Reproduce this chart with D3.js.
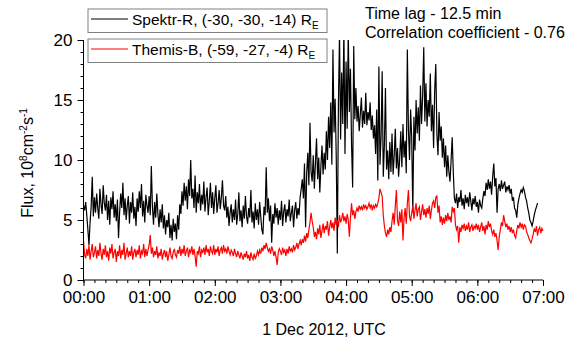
<!DOCTYPE html>
<html lang="en">
<head>
<meta charset="UTF-8">
<script src="https://d3js.org/d3.v7.min.js"></script>
<title>Flux</title>
<style>
  body { margin: 0; background: #fff; }
  text { font-family: "Liberation Sans", Arial, sans-serif; fill: #000; }
</style>
</head>
<body>
<svg id="chart" width="575" height="344"></svg>
<script>
// one value per minute, starting 1 Dec 2012 00:00 UTC
const spektr = [
  6.2, 5.8, 6.5, 5.4, 4.2, 2.9, 4.8, 6.1, 8.6, 5.3,
  6.9, 5.6, 7.2, 6.0, 5.1, 7.6, 6.3, 5.5, 7.9, 6.4,
  5.8, 7.1, 5.0, 6.6, 4.6, 6.9, 5.9, 7.4, 5.2, 6.3,
  4.9, 6.7, 3.5, 5.6, 7.2, 6.0, 8.1, 5.4, 6.8, 5.0,
  6.2, 7.0, 4.7, 6.5, 5.6, 7.3, 5.1, 6.1, 4.5, 6.8,
  5.7, 7.4, 6.0, 8.0, 5.3, 6.6, 4.8, 7.1, 6.2, 5.6,
  7.0, 5.4, 9.5, 6.1, 4.6, 6.5, 5.2, 7.2, 5.5, 4.4,
  5.9, 4.8, 6.3, 4.3, 5.4, 3.8, 5.0, 4.4, 5.6, 3.5,
  4.6, 3.3, 5.1, 4.0, 4.7, 3.4, 5.4, 4.2, 6.3, 5.5,
  7.4, 6.2, 8.1, 6.6, 7.8, 5.9, 8.4, 7.0, 10.0, 6.8,
  7.6, 6.0, 8.7, 5.6, 7.3, 6.4, 8.0, 5.8, 7.1, 6.3,
  8.2, 5.7, 6.9, 7.7, 5.4, 6.6, 8.1, 6.0, 7.3, 5.5,
  6.8, 7.9, 5.6, 6.4, 7.5, 5.9, 6.9, 8.3, 6.2, 5.8,
  7.0, 5.2, 6.1, 4.5, 5.6, 6.3, 4.8, 5.9, 5.0, 6.7,
  4.6, 5.5, 7.3, 4.9, 5.8, 4.4, 6.2, 5.1, 7.0, 5.3,
  4.7, 6.0, 5.2, 7.5, 4.8, 5.7, 4.3, 6.4, 5.0, 5.9,
  4.6, 6.5, 5.3, 4.2, 3.8, 6.1, 5.4, 9.4, 5.6, 6.8,
  4.9, 6.2, 3.1, 5.5, 4.7, 6.4, 5.2, 6.0, 4.6, 5.8,
  5.0, 6.6, 4.5, 5.7, 6.3, 4.8, 5.9, 5.3, 6.7, 4.9,
  5.6, 6.2, 4.4, 5.8, 6.5, 5.1, 6.0, 5.4, 6.9, 7.6,
  8.4, 6.8, 9.7, 4.4, 8.9, 10.6, 7.9, 13.1, 9.0, 8.2,
  10.4, 7.6, 9.8, 11.8, 8.4, 10.2, 7.3, 9.5, 11.2, 8.8,
  10.6, 9.2, 12.4, 10.0, 13.6, 11.0, 14.8, 9.6, 19.2, 12.3,
  15.1, 10.4, 2.2, 14.6, 20.5, 11.7, 17.3, 13.0, 21.0, 10.5,
  18.2, 12.6, 20.8, 14.0, 17.6, 11.3, 7.7, 19.5, 13.4, 16.0,
  13.2, 14.5, 12.4, 13.8, 15.2, 12.7, 14.1, 13.0, 15.6, 12.9,
  14.0, 13.3, 14.8, 12.5, 13.7, 11.8, 12.9, 10.5, 14.2, 8.3,
  17.8, 9.6, 12.0, 17.4, 8.6, 11.2, 16.0, 9.2, 10.8, 8.4,
  11.5, 9.0, 12.2, 8.8, 10.4, 12.6, 9.3, 11.0, 8.6, 10.1,
  12.4, 9.4, 13.0, 10.2, 11.6, 8.9, 19.2, 12.5, 10.0, 14.2,
  11.8, 5.6, 13.6, 10.8, 15.0, 12.2, 14.4, 11.6, 16.2, 13.0,
  15.4, 19.4, 13.2, 16.4, 12.8, 15.0, 13.6, 17.2, 12.4, 14.6,
  11.0, 15.8, 18.0, 12.2, 10.4, 14.0, 11.6, 12.8, 10.2, 11.8,
  9.4, 11.2, 8.6, 10.4, 9.0, 8.2, 10.0, 11.9, 9.0, 6.8,
  6.4, 7.2, 6.0, 6.9, 6.5, 7.5, 6.2, 6.8, 5.9, 7.1,
  6.4, 6.9, 6.1, 7.3, 6.6, 5.8, 6.8, 6.3, 7.0, 6.1,
  6.5, 5.6, 6.7, 6.2, 6.0, 6.8, 7.4, 7.0, 8.1, 7.5,
  8.4, 7.6, 8.2, 7.1, 8.6, 9.7, 7.8, 8.5, 5.6, 7.6,
  8.0, 7.4, 8.3, 7.6, 7.9, 8.2, 7.3, 7.8, 7.5, 7.9,
  7.2, 7.6, 6.6, 6.9, 6.0, 5.8, 5.2, 6.3, 6.8, 7.2,
  7.5, 7.3, 7.7, 7.4, 6.9, 6.6, 6.0, 5.6, 5.0, 4.8,
  4.5, 4.9, 5.4, 5.8, 6.1, 6.4
];

const themis = [
  3.3, 2.1, 1.8, 2.6, 2.0, 2.9, 1.7, 2.4, 3.0, 1.9,
  2.3, 2.8, 1.8, 2.5, 2.0, 3.1, 2.2, 1.7, 2.6, 2.1,
  2.9, 1.9, 2.4, 1.6, 2.7, 2.2, 3.0, 1.8, 2.3, 2.6,
  1.5, 2.4, 2.0, 2.9, 1.8, 2.5, 2.1, 3.1, 1.7, 2.2,
  2.7, 1.9, 2.4, 2.0, 2.8, 1.7, 2.3, 2.6, 1.9, 2.5,
  2.1, 2.9, 1.8, 2.4, 2.2, 3.0, 1.9, 2.6, 2.0, 2.5,
  2.9, 3.75, 2.2, 2.7, 1.9, 2.4, 2.1, 2.8, 1.8, 2.3,
  2.0, 2.6, 1.7, 2.2, 2.5, 1.9, 2.4, 1.6, 2.1, 2.7,
  2.0, 1.8, 2.3, 2.6, 2.1, 1.9, 2.5, 2.2, 2.8, 2.0,
  2.6, 2.2, 2.9, 2.0, 2.4, 2.7, 1.9, 2.5, 2.3, 2.8,
  2.1, 2.6, 2.0, 1.1, 2.4, 2.2, 2.8, 1.9, 2.5, 2.3,
  2.7, 2.1, 2.9, 2.3, 2.6, 2.0, 2.8, 2.4, 2.2, 2.9,
  2.1, 2.6, 2.3, 2.8, 2.0, 2.5, 2.7, 2.2, 2.9, 2.4,
  2.6, 2.2, 2.8, 2.4, 2.1, 2.5, 2.3, 2.0, 2.6, 2.2,
  1.9, 2.4, 2.1, 1.8, 2.3, 2.0, 1.7, 2.2, 1.9, 2.4,
  1.8, 2.1, 1.6, 2.3, 1.9, 1.7, 2.2, 1.8, 2.0, 2.4,
  2.1, 2.5, 2.2, 2.7, 2.4, 2.9, 2.6, 3.1, 2.7, 2.4,
  2.6, 2.2, 2.8, 2.5, 2.0, 2.4, 1.9, 1.25, 2.3, 2.6,
  2.4, 2.1, 2.7, 2.3, 2.5, 2.0, 2.6, 2.2, 2.8, 2.4,
  2.6, 2.3, 2.9, 2.5, 2.7, 3.1, 2.6, 3.0, 3.3, 2.9,
  3.4, 3.1, 3.7, 3.2, 3.9, 3.5, 4.2, 4.8, 5.6, 4.9,
  4.4, 3.6, 4.0, 3.4, 4.3, 3.8, 4.6, 3.5, 4.1, 4.7,
  3.9, 4.5, 4.2, 4.9, 3.7, 4.4, 5.0, 4.3, 4.8, 4.1,
  5.2, 4.6, 5.0, 4.4, 5.4, 4.8, 5.1, 5.6, 4.9, 5.3,
  4.7, 5.5, 5.0, 3.6, 5.2, 6.4, 5.4, 5.8, 5.1, 5.7,
  6.0, 5.7, 6.2, 5.9, 6.1, 5.8, 6.3, 6.0, 6.2, 5.9,
  6.1, 6.4, 6.0, 6.3, 5.8, 6.2, 6.0, 6.3, 6.1, 6.4,
  6.8, 7.6, 7.3, 7.0, 5.4, 4.5, 3.9, 3.6, 4.2, 3.8,
  4.4, 4.0, 4.9, 5.6, 4.6, 6.2, 7.5, 5.0, 4.5, 5.7,
  4.8, 5.9, 3.3, 5.2, 6.0, 4.7, 6.4, 7.5, 5.3, 4.9,
  5.6, 6.2, 5.1, 5.8, 6.4, 5.3, 5.9, 6.1, 5.0, 5.7,
  6.3, 5.4, 5.9, 5.2, 6.0, 5.5, 6.2, 5.1, 5.8, 6.4,
  6.6, 6.0, 6.9, 7.0, 5.6, 6.2, 4.8, 5.3, 4.6, 5.2,
  4.7, 5.4, 4.9, 5.6, 5.0, 5.3, 4.8, 6.1, 5.7, 6.0,
  4.6, 4.2, 4.5, 3.1, 4.4, 4.0, 4.6, 4.3, 4.7, 4.1,
  4.5, 4.2, 4.8, 4.0, 4.4, 4.6, 4.1, 4.5, 4.3, 4.7,
  4.2, 4.6, 4.0, 4.4, 4.8, 4.1, 4.5, 3.8, 4.6, 4.2,
  4.9, 4.4, 4.7, 4.1, 3.8, 4.2, 3.6, 3.9, 3.3, 2.5,
  3.6, 4.2, 4.8, 4.5, 5.4, 4.9, 4.4, 4.7, 4.2, 4.5,
  4.0, 4.4, 3.9, 4.2, 3.7, 3.5, 4.1, 4.6, 4.3, 4.8,
  4.4, 4.7, 4.2, 4.6, 4.5, 4.0, 3.8, 3.5, 3.3, 3.1,
  3.4, 3.8, 4.3, 4.0, 4.5, 3.7, 4.2, 4.4, 3.9, 4.3,
  4.1
];

const yTicks = [0, 5, 10, 15, 20];
const seriesNames = ["Spektr-R, (-30, -30, -14) R", "Themis-B, (-59, -27, -4) R"];
const seriesColors = ["#000000", "#ff0000"];
const infoLines = ["Time lag - 12.5 min", "Correlation coefficient - 0.76"];

const svg = d3.select("svg#chart");
const margin = {top: 40, right: 32, bottom: 64, left: 83.5};

const t0 = Date.UTC(2012, 11, 1, 0, 0);
const t1 = Date.UTC(2012, 11, 1, 7, 0);
const x = d3.scaleUtc().domain([t0, t1]).range([margin.left, 543]);
const y = d3.scaleLinear().domain([0, 20]).range([280, margin.top]);

svg.append("defs").append("clipPath").attr("id", "plotclip")
  .append("rect")
  .attr("x", margin.left).attr("y", y(20))
  .attr("width", x(t1) - margin.left + 2).attr("height", y(0) - y(20));

const line = d3.line()
  .x((d, i) => x(t0 + i * 60000))
  .y(d => y(d));

const plot = svg.append("g").attr("clip-path", "url(#plotclip)");
plot.append("path").datum(spektr)
  .attr("fill", "none").attr("stroke", seriesColors[0]).attr("stroke-width", 1.2)
  .attr("d", line);
plot.append("path").datum(themis)
  .attr("fill", "none").attr("stroke", seriesColors[1]).attr("stroke-width", 1.2)
  .attr("d", line);

// axes
const xMinor = d3.axisBottom(x).ticks(d3.utcMinute.every(10)).tickSize(3).tickFormat("");
svg.append("g").attr("transform", `translate(0,${y(0)})`).call(xMinor)
  .call(g => g.select(".domain").remove());
const xAxis = d3.axisBottom(x).ticks(d3.utcHour.every(1))
  .tickFormat(d3.utcFormat("%H:%M")).tickSize(6).tickPadding(5);
svg.append("g").attr("transform", `translate(0,${y(0)})`).call(xAxis)
  .call(g => g.select(".domain").attr("d", `M${x(t0)},0H${x(t1)}`))
  .call(g => g.selectAll("text").attr("font-size", 17).attr("font-family", null));

const yMinor = d3.axisLeft(y).ticks(20).tickSize(3).tickFormat("");
svg.append("g").attr("transform", `translate(${margin.left},0)`).call(yMinor)
  .call(g => g.select(".domain").remove());
const yAxis = d3.axisLeft(y).tickValues(yTicks).tickSize(6).tickPadding(5);
svg.append("g").attr("transform", `translate(${margin.left},0)`).call(yAxis)
  .call(g => g.select(".domain").attr("d", `M0,${y(0)}V${y(20)}`))
  .call(g => g.selectAll("text").attr("font-size", 17).attr("font-family", null));

svg.selectAll(".tick line, .domain").attr("stroke", "#000").attr("stroke-width", 1);

// axis titles
const yTitle = svg.append("text")
  .attr("transform", "translate(33,163) rotate(-90)")
  .attr("text-anchor", "middle").attr("font-size", 16);
yTitle.append("tspan").text("Flux, 10");
yTitle.append("tspan").attr("dy", -6).attr("font-size", 10).text("8");
yTitle.append("tspan").attr("dy", 6).text("cm");
yTitle.append("tspan").attr("dy", -6).attr("font-size", 10).text("-2");
yTitle.append("tspan").attr("dy", 6).text("s");
yTitle.append("tspan").attr("dy", -6).attr("font-size", 10).text("-1");

svg.append("text")
  .attr("x", 324).attr("y", 335)
  .attr("text-anchor", "middle").attr("font-size", 16)
  .text("1 Dec 2012, UTC");

// legend
const legendTop = [9, 39];
seriesNames.forEach((name, i) => {
  const g = svg.append("g").attr("transform", `translate(88,${legendTop[i]})`);
  g.append("rect").attr("width", 239).attr("height", 23.5)
    .attr("fill", "#fff").attr("stroke", "#808080").attr("stroke-width", 1);
  g.append("line").attr("x1", 3).attr("x2", 40).attr("y1", 10).attr("y2", 10)
    .attr("stroke", seriesColors[i]).attr("stroke-width", 1);
  const t = g.append("text").attr("x", 44).attr("y", 16).attr("font-size", 15.5);
  t.append("tspan").text(name);
  t.append("tspan").attr("dy", 4).attr("font-size", 10).text("E");
});

svg.selectAll("text.info").data(infoLines).join("text")
  .attr("class", "info")
  .attr("x", 365).attr("y", (d, i) => 19 + i * 19)
  .attr("font-size", 16)
  .text(d => d);
</script>
</body>
</html>
